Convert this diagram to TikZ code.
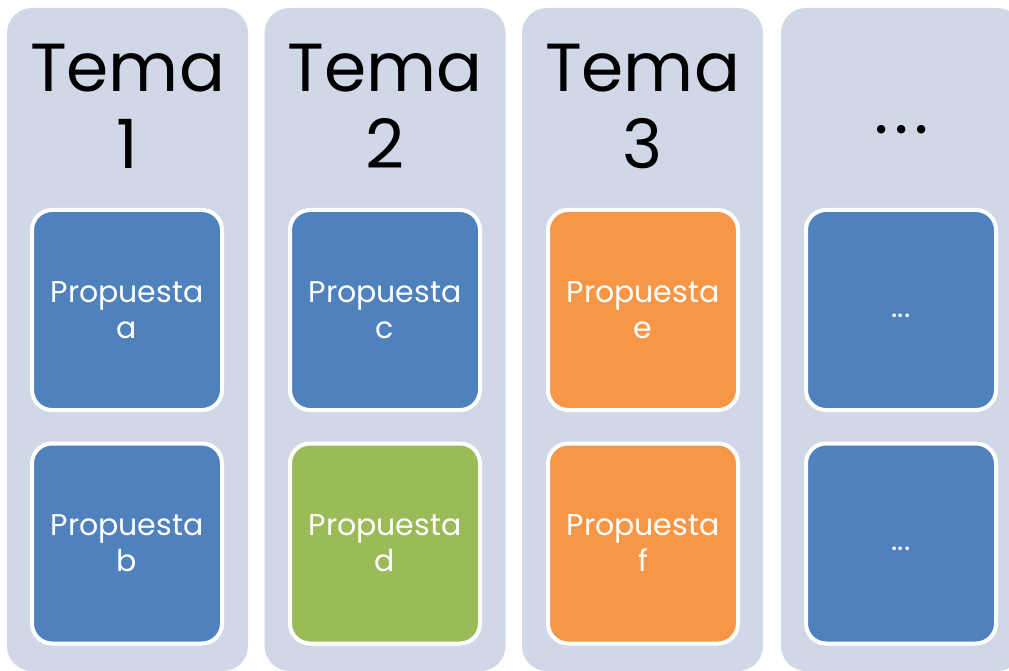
\documentclass[tikz,border=0pt]{standalone}
\usepackage{fontspec}
\setmainfont{Poppins}
\definecolor{fondo}{RGB}{208,216,232}
\definecolor{azul}{RGB}{79,129,189}
\definecolor{verde}{RGB}{155,187,89}
\definecolor{naranja}{RGB}{247,150,70}

\begin{document}
\begin{tikzpicture}[x=1pt, y=-1pt,
    columna/.style={fill=fondo, rounded corners=25pt},
    tema/.style={align=center, font=\fontsize{68}{77}\selectfont},
    propuesta/.style={draw=white, line width=4pt, rounded corners=20pt, minimum width=190pt, minimum height=200pt, inner sep=0pt, text=white, align=center, font=\fontsize{30}{36}\selectfont}]

    \useasboundingbox (0,0) rectangle (1009,671);

    %columnas
    \fill[columna] (7,8) rectangle (248,671);
    \fill[columna] (264.5,8) rectangle (505.5,671);
    \fill[columna] (522,8) rectangle (763,671);
    \fill[columna] (781,8) rectangle (1022,671);

    %temas
    \node[tema] (t1) at (127.5,106) {Tema\\1};
    \node[tema] (t2) at (385,106) {Tema\\2};
    \node[tema] (t3) at (642.5,106) {Tema\\3};
    \node[tema, anchor=base] (t4) at (901.5,134) {.\kern6pt.\kern6pt.};

    %propuestas
    \node[propuesta, fill=azul] (pa) at (127,310) {Propuesta\\a};
    \node[propuesta, fill=azul] (pb) at (127,543.5) {Propuesta\\b};
    \node[propuesta, fill=azul] (pc) at (385,310) {Propuesta\\c};
    \node[propuesta, fill=verde] (pd) at (385,543.5) {Propuesta\\d};
    \node[propuesta, fill=naranja] (pe) at (643,310) {Propuesta\\e};
    \node[propuesta, fill=naranja] (pf) at (643,543.5) {Propuesta\\f};
    \node[propuesta, fill=azul] (pg) at (901,310) {\strut...};
    \node[propuesta, fill=azul] (ph) at (901,543.5) {\strut...};

\end{tikzpicture}
\end{document}
